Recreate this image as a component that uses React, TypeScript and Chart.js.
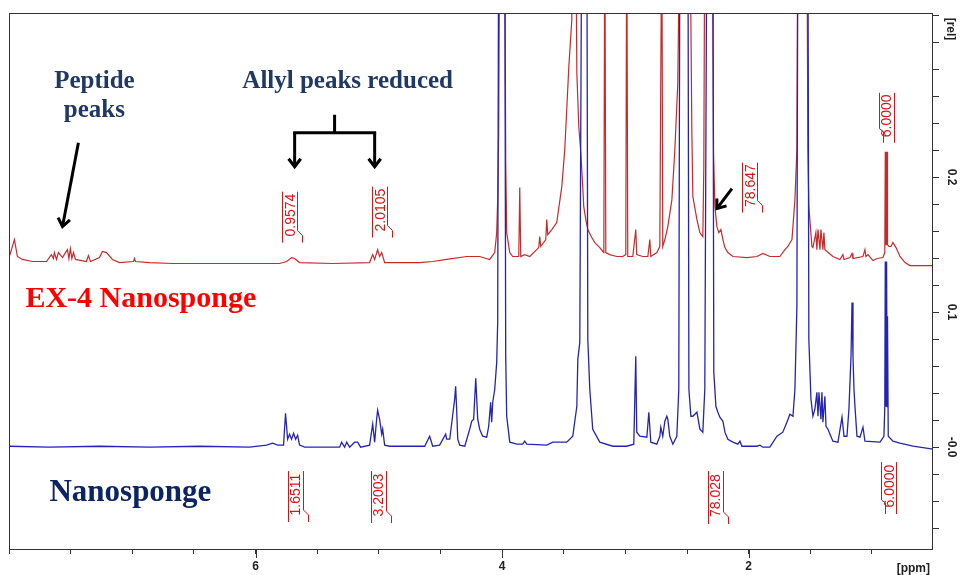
import React, { useEffect, useRef } from 'react';
import { Chart, registerables } from 'chart.js';
Chart.register(...registerables);

// axis ranges (ppm reversed, relative intensity)
const PPM_MIN = 0.505;
const PPM_MAX = 8.0;
const REL_MIN = -0.0754;
const REL_MAX = 0.3215;
const xTickLabels = [2, 4, 6];
const yTickLabels: [number, string][] = [[0, '-0.0'], [0.1, '0.1'], [0.2, '0.2']];

// EX-4 Nanosponge spectrum (red): [ppm, rel]
const ex4Spectrum: [number, number][] = [
  [7.997,0.1412],[7.956,0.1537],[7.932,0.1412],[7.891,0.1390],[7.810,0.1375],[7.696,0.1375],[7.656,0.1426],[7.640,0.1397],
  [7.632,0.1441],[7.615,0.1390],[7.599,0.1441],[7.566,0.1404],[7.542,0.1441],[7.526,0.1463],[7.514,0.1397],[7.502,0.1471],
  [7.490,0.1397],[7.477,0.1441],[7.461,0.1390],[7.372,0.1375],[7.356,0.1419],[7.339,0.1375],[7.266,0.1404],[7.242,0.1449],
  [7.209,0.1441],[7.161,0.1390],[7.104,0.1367],[6.990,0.1375],[6.982,0.1397],[6.974,0.1375],[6.860,0.1367],[6.674,0.1360],
  [6.200,0.1360],[5.805,0.1360],[5.748,0.1375],[5.708,0.1404],[5.683,0.1397],[5.643,0.1367],[5.375,0.1360],[5.075,0.1367],
  [5.050,0.1426],[5.034,0.1390],[5.010,0.1463],[4.994,0.1412],[4.977,0.1441],[4.953,0.1367],[4.669,0.1367],[4.563,0.1375],
  [4.450,0.1390],[4.287,0.1412],[4.182,0.1412],[4.101,0.1390],[4.060,0.1441],[4.044,0.1589],[4.036,0.1833],[4.028,0.2328],
  [4.019,0.40],[3.979,0.40],[3.971,0.2129],[3.963,0.1589],[3.938,0.1441],[3.914,0.1412],[3.865,0.1412],[3.857,0.1922],
  [3.849,0.1412],[3.817,0.1426],[3.776,0.1412],[3.703,0.1478],[3.695,0.1559],[3.687,0.1486],[3.646,0.1537],[3.638,0.1685],
  [3.630,0.1574],[3.597,0.1611],[3.557,0.1663],[3.516,0.1929],[3.492,0.2203],[3.476,0.2498],[3.459,0.2816],[3.435,0.3163],
  [3.427,0.40],[3.403,0.40],[3.394,0.2772],[3.386,0.2572],[3.378,0.2373],[3.362,0.2180],[3.346,0.1929],[3.338,0.1781],
  [3.321,0.1685],[3.305,0.1611],[3.273,0.1552],[3.248,0.1515],[3.208,0.1478],[3.183,0.1449],[3.175,0.1441],[3.167,0.40],
  [3.159,0.1441],[3.127,0.1426],[3.070,0.1412],[3.021,0.1412],[2.997,0.1426],[2.989,0.40],[2.981,0.1412],[2.940,0.1412],
  [2.916,0.1611],[2.908,0.1426],[2.859,0.1412],[2.818,0.1412],[2.802,0.1537],[2.794,0.1412],[2.745,0.1441],[2.721,0.1486],
  [2.705,0.40],[2.697,0.1486],[2.680,0.1537],[2.656,0.1633],[2.623,0.1833],[2.599,0.2203],[2.575,0.2698],[2.558,0.40],
  [2.477,0.40],[2.461,0.2328],[2.453,0.1855],[2.420,0.1685],[2.396,0.1589],[2.372,0.1559],[2.364,0.2077],[2.356,0.40],
  [2.295,0.40],[2.285,0.2180],[2.274,0.1781],[2.258,0.1633],[2.242,0.1589],[2.226,0.1611],[2.209,0.1537],[2.193,0.1478],
  [2.169,0.1441],[2.128,0.1412],[2.015,0.1404],[1.933,0.1412],[1.885,0.1434],[1.828,0.1412],[1.747,0.1412],[1.706,0.1463],
  [1.682,0.1486],[1.649,0.1537],[1.625,0.1833],[1.609,0.2203],[1.601,0.40],[1.528,0.40],[1.520,0.2203],[1.512,0.1781],
  [1.487,0.1486],[1.479,0.1478],[1.455,0.1589],[1.447,0.1463],[1.438,0.1611],[1.422,0.1463],[1.414,0.1611],[1.398,0.1463],
  [1.390,0.1589],[1.382,0.1463],[1.365,0.1449],[1.317,0.1412],[1.260,0.1390],[1.236,0.1426],[1.227,0.1390],[1.179,0.1404],
  [1.162,0.1434],[1.154,0.1397],[1.073,0.1412],[1.057,0.1463],[1.049,0.1412],[1.032,0.1426],[0.992,0.1382],[0.959,0.1397],
  [0.911,0.1404],[0.896,0.1441],[0.892,0.2188],[0.890,0.1500],[0.888,0.2188],[0.886,0.1500],[0.884,0.2188],[0.882,0.1500],
  [0.880,0.2188],[0.878,0.1500],[0.876,0.2188],[0.872,0.1500],[0.862,0.1486],[0.846,0.1486],[0.830,0.1515],[0.805,0.1478],
  [0.773,0.1412],[0.732,0.1367],[0.692,0.1345],[0.505,0.1345],
];

// Nanosponge spectrum (blue): [ppm, rel]
const nanospongeSpectrum: [number, number][] = [
  [7.997,0.0007],[7.672,0.0000],[7.266,0.0007],[6.860,0.0000],[6.454,0.0007],[6.049,0.0000],[5.911,0.0015],[5.862,0.0030],
  [5.821,0.0015],[5.773,0.0015],[5.757,0.0251],[5.740,0.0059],[5.724,0.0096],[5.708,0.0059],[5.692,0.0103],[5.675,0.0059],
  [5.659,0.0089],[5.643,0.0015],[5.602,0.0000],[5.318,0.0000],[5.302,0.0037],[5.278,0.0000],[5.261,0.0037],[5.237,0.0000],
  [5.196,0.0037],[5.172,0.0037],[5.148,0.0000],[5.075,0.0015],[5.050,0.0170],[5.034,0.0037],[5.018,0.0207],[5.010,0.0273],
  [4.994,0.0207],[4.977,0.0096],[4.969,0.0133],[4.953,0.0015],[4.912,0.0007],[4.628,0.0007],[4.588,0.0081],[4.563,0.0007],
  [4.507,0.0015],[4.458,0.0096],[4.450,0.0059],[4.425,0.0059],[4.385,0.0355],[4.377,0.0451],[4.369,0.0281],[4.360,0.0059],
  [4.344,0.0015],[4.303,0.0007],[4.263,0.0133],[4.247,0.0192],[4.231,0.0207],[4.214,0.0510],[4.198,0.0207],[4.182,0.0133],
  [4.158,0.0081],[4.125,0.0074],[4.109,0.0155],[4.093,0.0333],[4.085,0.0185],[4.076,0.0333],[4.060,0.0429],[4.044,0.0628],
  [4.036,0.0924],[4.028,0.40],[3.979,0.40],[3.971,0.0673],[3.963,0.0229],[3.938,0.0037],[3.881,0.0022],[3.833,0.0022],
  [3.817,0.0044],[3.800,0.0022],[3.638,0.0015],[3.589,0.0037],[3.476,0.0037],[3.427,0.0081],[3.394,0.0303],[3.386,0.0650],
  [3.370,0.0776],[3.354,0.40],[3.313,0.40],[3.305,0.0798],[3.289,0.0429],[3.265,0.0133],[3.208,0.0037],[3.102,0.0007],
  [2.989,0.0007],[2.932,0.0022],[2.916,0.0673],[2.908,0.0111],[2.883,0.0081],[2.826,0.0074],[2.810,0.0259],[2.794,0.0037],
  [2.745,0.0022],[2.721,0.0081],[2.713,0.0148],[2.697,0.0081],[2.680,0.0192],[2.664,0.0229],[2.656,0.0207],[2.640,0.0081],
  [2.615,0.0022],[2.583,0.0081],[2.567,0.0429],[2.558,0.40],[2.493,0.40],[2.485,0.0429],[2.469,0.0229],[2.453,0.0229],
  [2.420,0.0259],[2.396,0.0133],[2.372,0.0111],[2.356,0.0429],[2.339,0.40],[2.291,0.40],[2.283,0.0554],[2.266,0.0303],
  [2.250,0.0259],[2.234,0.0222],[2.209,0.0192],[2.193,0.0111],[2.169,0.0059],[2.128,0.0037],[2.088,0.0022],[2.071,0.0044],
  [2.055,0.0007],[1.933,0.0007],[1.909,0.0015],[1.885,0.0000],[1.828,0.0000],[1.771,0.0081],[1.723,0.0111],[1.690,0.0185],
  [1.666,0.0244],[1.641,0.0229],[1.625,0.0429],[1.609,0.1042],[1.601,0.40],[1.520,0.40],[1.512,0.0798],[1.495,0.0355],
  [1.479,0.0229],[1.463,0.0281],[1.447,0.0406],[1.438,0.0229],[1.430,0.0406],[1.414,0.0207],[1.406,0.0406],[1.398,0.0185],
  [1.382,0.0377],[1.373,0.0155],[1.357,0.0133],[1.317,0.0044],[1.276,0.0037],[1.243,0.0222],[1.227,0.0081],[1.203,0.0081],
  [1.187,0.0281],[1.170,0.0673],[1.162,0.1072],[1.154,0.0673],[1.146,0.0429],[1.138,0.0303],[1.122,0.0081],[1.097,0.0074],
  [1.073,0.0148],[1.057,0.0044],[0.935,0.0037],[0.903,0.0081],[0.896,0.0300],[0.892,0.1375],[0.889,0.0300],[0.886,0.1375],
  [0.883,0.0300],[0.880,0.1375],[0.877,0.0300],[0.874,0.0970],[0.868,0.0081],[0.830,0.0044],[0.773,0.0030],[0.667,0.0007],
  [0.505,-0.0015],
];

// integral labels
const integralTexts = ['0.9574', '2.0105', '78.647', '6.0000', '1.6511', '3.2003', '78.028', '6.0000'];
const integralPpm = [5.713, 4.985, 1.982, 0.874, 5.667, 4.994, 2.260, 0.854];
const integralTop = [0.1892, 0.1929, 0.2107, 0.2624, -0.0177, -0.0177, -0.0177, -0.0111];
const integralBottom = [0.1515, 0.1552, 0.1737, 0.2254, -0.0554, -0.0562, -0.0569, -0.0495];
const integralJog = ['right', 'right', 'right', 'left', 'right', 'right', 'right', 'left'];

const RED = '#c82a2a';
const BLUE = '#2424b4';
const NAVY = '#1f3864';

function arrow(ctx: CanvasRenderingContext2D, x1: number, y1: number, x2: number, y2: number) {
  ctx.beginPath();
  ctx.moveTo(x1, y1);
  ctx.lineTo(x2, y2);
  ctx.stroke();
  const ang = Math.atan2(y2 - y1, x2 - x1);
  const L = 10;
  const s = 0.65;
  ctx.beginPath();
  ctx.moveTo(x2 - L * Math.cos(ang - s), y2 - L * Math.sin(ang - s));
  ctx.lineTo(x2, y2);
  ctx.lineTo(x2 - L * Math.cos(ang + s), y2 - L * Math.sin(ang + s));
  ctx.stroke();
}

const overlay = {
  id: 'overlay',
  afterDraw(chart: any) {
    const { ctx, chartArea: a } = chart;
    const xs = chart.scales.x;
    const ys = chart.scales.y;
    const px = (v: number) => xs.getPixelForValue(v);
    const py = (v: number) => ys.getPixelForValue(v);
    ctx.save();

    // frame
    ctx.strokeStyle = '#333';
    ctx.lineWidth = 1;
    ctx.strokeRect(Math.round(a.left) + 0.5, Math.round(a.top) + 0.5, Math.round(a.right - a.left) - 1, Math.round(a.bottom - a.top));

    // longer major ticks
    xTickLabels.forEach((v) => {
      const x = Math.round(px(v)) + 0.5;
      ctx.beginPath();
      ctx.moveTo(x, a.bottom);
      ctx.lineTo(x, a.bottom + 9);
      ctx.stroke();
    });

    // y tick labels rotated
    ctx.fillStyle = '#222';
    ctx.font = 'bold 12px "Liberation Sans", Arial, sans-serif';
    ctx.textAlign = 'center';
    ctx.textBaseline = 'middle';
    yTickLabels.forEach(([v, s]) => {
      ctx.save();
      ctx.translate(a.right + 18, py(v));
      ctx.rotate(Math.PI / 2);
      ctx.fillText(s, 0, 0);
      ctx.restore();
    });
    ctx.save();
    ctx.translate(a.right + 17, a.top + 16);
    ctx.rotate(Math.PI / 2);
    ctx.fillText('[rel]', 0, 0);
    ctx.restore();
    ctx.textAlign = 'right';
    ctx.fillText('[ppm]', a.right - 3, a.bottom + 20);

    // integral labels
    ctx.strokeStyle = '#e01010';
    ctx.fillStyle = '#e01010';
    ctx.lineWidth = 1;
    ctx.font = '14px "Liberation Sans", Arial, sans-serif';
    integralTexts.forEach((t, i) => {
      const x = px(integralPpm[i]);
      const yT = py(integralTop[i]);
      const yB = py(integralBottom[i]);
      const l = Math.round(x - 9) + 0.5;
      const r = Math.round(x + 6) + 0.5;
      ctx.beginPath();
      if (integralJog[i] === 'right') {
        ctx.moveTo(l, yT); ctx.lineTo(l, yB);
        ctx.moveTo(r, yT); ctx.lineTo(r, yB - 12); ctx.lineTo(r + 5, yB - 7); ctx.lineTo(r + 5, yB);
      } else {
        ctx.moveTo(r, yT); ctx.lineTo(r, yB);
        ctx.moveTo(l, yT); ctx.lineTo(l, yB - 14); ctx.lineTo(l + 4, yB - 11); ctx.lineTo(l + 4, yB);
      }
      ctx.stroke();
      ctx.save();
      ctx.translate(x, (yT + yB) / 2 - 2);
      ctx.rotate(-Math.PI / 2);
      ctx.textAlign = 'center';
      ctx.textBaseline = 'middle';
      ctx.fillText(t, 0, 0);
      ctx.restore();
    });

    // annotation texts
    ctx.textBaseline = 'alphabetic';
    ctx.fillStyle = NAVY;
    ctx.font = 'bold 25px "Liberation Serif", "Times New Roman", serif';
    ctx.textAlign = 'center';
    ctx.fillText('Peptide', px(7.307), py(0.2661));
    ctx.fillText('peaks', px(7.307), py(0.2446));
    ctx.fillText('Allyl peaks reduced', px(5.253), py(0.2661));
    ctx.textAlign = 'left';
    ctx.font = 'bold 30px "Liberation Serif", "Times New Roman", serif';
    ctx.fillStyle = '#ff0000';
    ctx.fillText('EX-4 Nanosponge', px(7.867), py(0.1035));
    ctx.font = 'bold 31px "Liberation Serif", "Times New Roman", serif';
    ctx.fillStyle = '#0b2466';
    ctx.fillText('Nanosponge', px(7.672), py(-0.0399));

    // arrows
    ctx.strokeStyle = '#000';
    ctx.lineWidth = 3;
    ctx.lineCap = 'butt';
    arrow(ctx, px(7.437), py(0.2254), px(7.566), py(0.1634));
    ctx.beginPath();
    ctx.moveTo(px(5.359), py(0.2461));
    ctx.lineTo(px(5.359), py(0.2328));
    ctx.moveTo(px(5.683) - 1.5, py(0.2328));
    ctx.lineTo(px(5.034) + 1.5, py(0.2328));
    ctx.stroke();
    arrow(ctx, px(5.683), py(0.2328), px(5.683), py(0.2077));
    arrow(ctx, px(5.034), py(0.2328), px(5.034), py(0.2077));
    arrow(ctx, px(2.136), py(0.1914), px(2.258), py(0.1767));

    ctx.restore();
  },
};

export default function App() {
  const ref = useRef<HTMLCanvasElement | null>(null);
  useEffect(() => {
    if (!ref.current) return;
    const chart = new Chart(ref.current, {
      type: 'line',
      data: {
        datasets: [
          {
            label: 'Nanosponge',
            data: nanospongeSpectrum.map(([x, y]) => ({ x, y })),
            borderColor: BLUE,
            borderWidth: 1.3,
            pointRadius: 0,
            tension: 0,
          },
          {
            label: 'EX-4 Nanosponge',
            data: ex4Spectrum.map(([x, y]) => ({ x, y })),
            borderColor: RED,
            borderWidth: 1.2,
            pointRadius: 0,
            tension: 0,
          },
        ],
      },
      options: {
        responsive: false,
        animation: false,
        events: [],
        layout: { padding: { left: 9, top: 13, right: 0, bottom: 0 } },
        plugins: { legend: { display: false }, tooltip: { enabled: false } },
        scales: {
          x: {
            type: 'linear',
            reverse: true,
            min: PPM_MIN,
            max: PPM_MAX,
            position: 'bottom',
            ticks: {
              stepSize: 0.5,
              autoSkip: false,
              includeBounds: false,
              maxRotation: 0,
              minRotation: 0,
              padding: 5,
              color: '#222',
              font: { family: '"Liberation Sans", Arial, sans-serif', weight: 'bold', size: 12 },
              callback: (v: any) => (xTickLabels.includes(Number(v)) ? String(v) : ''),
            },
            grid: { drawOnChartArea: false, drawTicks: true, tickLength: 5, color: '#333' },
            border: { display: false },
            afterFit: (s: any) => { s.height = 26; },
          },
          y: {
            type: 'linear',
            position: 'right',
            min: REL_MIN,
            max: REL_MAX,
            ticks: { stepSize: 0.02, includeBounds: false, display: false },
            grid: { drawOnChartArea: false, drawTicks: true, tickLength: 6, color: '#333' },
            border: { display: false },
            afterFit: (s: any) => { s.width = 28; },
          },
        },
      } as any,
      plugins: [overlay],
    });
    return () => chart.destroy();
  }, []);
  return (
    <div style={{ position: 'fixed', left: 0, top: 0, width: 961, height: 575, background: '#fff' }}>
      <canvas ref={ref} width={961} height={575} style={{ width: 961, height: 575 }} />
    </div>
  );
}
